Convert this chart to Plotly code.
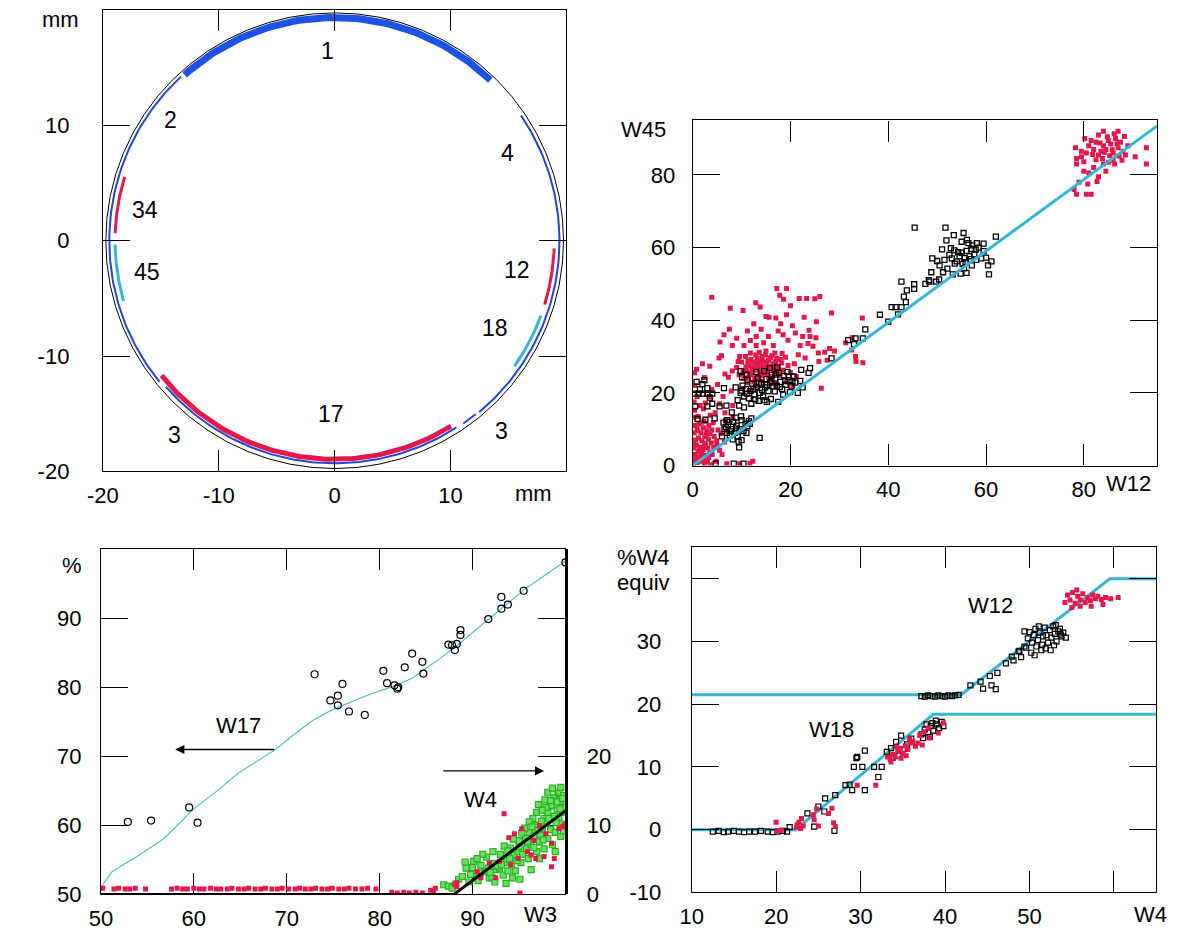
import numpy as np
import plotly.graph_objects as go

W, H = 1179, 945
OFF = 8                      # default body margin of the html page
FW, FH = W - 2 * OFF, H - 2 * OFF
FONT = "Liberation Sans, Arial, Helvetica, sans-serif"
RED = "#e3194b"
CYAN = "#35b6d6"
BLUE = "#2344d4"

# ---------------- Panel 1: detector ring (mm) ----------------
ring_r = 19.75
arc_label = ["2", "17b", "3a", "4", "1", "34", "12", "17", "45", "18"]
arc_r = [19.45, 19.3, 19.35, 19.4, 19.35, 18.95, 18.95, 18.95, 18.95, 18.95]
arc_start = [133, 221, 305, 310, 46, 163, -17, 218, 181, -35]
arc_end = [219, 303, 309, 394, 132, 178, -2, 302, 196, -20]
arc_color = [BLUE, BLUE, BLUE, BLUE, "#1d52e6", RED, RED, RED, CYAN, CYAN]
arc_width = [2, 2, 2, 2, 7, 3, 3, 5, 3, 3]

p1_text = ["1", "2", "4", "34", "45", "12", "18", "17", "3", "3"]
p1_tx = [-0.6, -14.2, 14.9, -16.4, -16.2, 15.7, 13.8, -0.3, -13.8, 14.4]
p1_ty = [16.45, 10.5, 7.6, 2.7, -2.7, -2.5, -7.6, -15.0, -16.8, -16.5]

# ---------------- Panel 2: W45 vs W12 ----------------
p2_red = [
    (0.2,0.5),(0.5,1.5),(0.9,0.8),(1.3,2.2),(0.4,3),(1.1,3.8),(1.8,3),(2.3,1.6),(2.8,2.8),(0.3,4.8),
    (0.8,5.6),(1.5,5),(2.1,4.4),(2.6,6),(3.1,4.8),(3.5,3.5),(0.6,7),(1.2,7.6),(1.9,6.8),(2.5,8),
    (3.2,7.2),(3.8,6.2),(4.3,5),(0.3,9),(1,9.6),(1.7,9),(2.2,10.4),(2.9,9.6),(3.6,8.8),(4.4,8),
    (4.9,6.8),(0.5,11),(1.4,11.5),(2.3,12.2),(3.3,11),(0.2,13.3),(1.1,13.5),(4.2,11.8),(5.2,9.8),(5.8,8.8),
    (0.4,15.2),(2.2,15.6),(0.3,17.5),(0.9,19),(0.5,22),(0.4,25.5),(0.8,26.5),(2,28),(1.5,16.5),(3.4,19),
    (3.9,21),(2.6,17.2),(4.6,14.5),(5.5,17),(6.7,12.3),(6.2,19),(5.1,22.3),(5.4,29.6),(6.6,25.2),(7.3,24.3),
    (7.9,20.5),(8.1,26),(9.3,28.6),(3.6,13.8),(7,0.5),(9.6,0.5),(11.7,0.6),(12.3,1.2),(2.4,0.3),(3.6,0.2),
    (4.8,1.2),(6,3),(5.5,4.2),(6.5,6.5),(7.2,9.5),(8.2,13.2),(1.6,1.2),(3.0,1.0),(0.7,2.4),(2.0,2.2),
    (0.9,10.6),(1.9,11.9),(2.8,8.6),(3.9,9.8),(1.4,4.2),(2.4,5.4),(4.0,3.0),(0.2,6.2),(5.0,5.6),(3.3,2.2),
    (10.5,24),(11,26),(11.5,27.5),(12,25),(12.3,28.5),(12.8,26.5),(13.2,29.5),(13.5,24.5),(13.8,27.5),(14.2,30),
    (14.5,26),(14.8,28.5),(15.2,25.2),(15.5,29),(15.8,27),(16.2,30.2),(16.5,28),(16.8,25.8),(17.2,29.5),(17.5,27),
    (17.8,24.8),(18.2,28.2),(18.5,26.2),(19,29.8),(19.5,27.5),(20,25.5),(11.2,22.8),(12.5,23),(13,21.8),(10,28.5),
    (10.8,30),(11.8,31),(13.6,31.2),(15,31.5),(16.8,31),(18.3,30.8),(12,20.5),(10.2,21.2),(9.5,25),(9,27),
    (11.6,25.1),(12.4,27.1),(13.1,26.2),(13.9,25.6),(14.6,27.2),(15.4,26.6),(16.1,27.4),(11.9,29.2),(12.9,28.2),(14.1,28.8),
    (10.9,27.2),(11.4,24.2),(12.7,24.1),(13.4,27.0),(14.3,24.8),(15.1,28.0),(15.9,29.6),(16.6,26.8),(17.0,28.6),(12.1,26.3),
    (13.6,28.3),(14.9,30.4),(11.3,28.6),(16.3,24.6),(10.3,25.8),(12.9,30.4),(15.6,24.2),(17.4,26.0),(18.0,29.2),(14.0,26.5),
    (14,23.2),(16,23.5),(17,22.5),(19.2,23),(20.5,22),(21.2,24.5),(20.8,28),(13,33),(14.5,33.8),(16.5,33),
    (15.5,35.5),(14,37.5),(13,35.5),(17.5,37),(18.5,36),(19.5,34.5),(21,36.5),(22.5,35.5),(23.6,33.6),(24.6,32.8),
    (25.2,35.2),(25.7,31),(27,31.2),(28,32.2),(21.6,30.5),(23,29.6),(25.8,28.6),(29,31.5),(31.3,33.8),(32.5,31.8),
    (34.7,40.6),(32.6,35.2),(33.3,30),(34.8,28.3),(33.4,28.6),(26.3,21.3),(3.9,46.3),(7.7,43.3),(10.3,42.7),(12.9,44.8),
    (13.8,43.6),(15,41),(15.6,40.8),(17.2,48.7),(19.2,48.7),(17.8,46.9),(18.6,45.8),(20,44),(21.8,46),(23.3,46),
    (25,45.9),(26,46.5),(28.4,42),(22.8,40.8),(25.3,39.6),(17,40.6),(19.2,41.5),(18,39),(20.4,38.5),(23.8,37.2),
    (22,33),(24,35.5),(27.5,29),(5.9,30.2),(9.6,30),(8.1,33),(5.6,34),(10.5,33),(11.8,34.4),(12.5,39),
    (6.4,36),(7.5,37.5),(9,35),(11.2,37),(2.4,24.2),(3.5,27.3),(6.6,14.5),(8.2,16.5),
    (78.5,84.5),(79.5,85),(80.5,86),(81,88),(82,87),(82.5,89),(83,85.5),(83.5,86.5),(84,88),(84.5,87),
    (85,89.5),(85.5,88.5),(86,86),(86.5,90),(87,87.5),(87.5,89),(88,86.5),(86,84),(85,83.5),(84,83),
    (82,82),(81,80.5),(80,81),(83,79.5),(84.5,81),(79,78),(78,76),(78.5,74.7),(80.5,74.7),(81.5,74.7),
    (80.8,77.5),(82.7,78.2),(84.8,90.5),(84,92),(87,92),(83,91),(81.5,89.5),(79.5,86.5),(78.3,87.5),(78.5,83),
    (80.2,90),(88.5,85.5),(87.8,84),(92.8,87.5),(92.8,83),(90.5,85),(89,88),(86.3,83),(83.8,84.5),(82.5,84.2),
    (85.3,85.3),(86.8,88.6),(84.2,86.2),(81.8,85.6),(88.3,90.6),(86.2,91.3),(83.3,88.8),(80,83.6),(85.8,86.9),(87.2,85.2),
]
p2_blk = [
    (6,8),(6.5,10),(7,9),(7.2,11.2),(7.6,8.2),(8,10),(8.3,12),(8.6,9),(9,11),(9.2,8),
    (9.6,10),(10,12.5),(10.4,9.5),(10.8,11.5),(11.2,10.8),(7,12.5),(8.8,13.2),(9.9,13.5),(6.3,11.8),(11.5,12.2),
    (8.2,7.2),(9.4,6.6),(9.5,5),(10,7),(11,9),(12,13),(11.7,11.5),(6.8,10.6),(7.8,9.4),(8.9,10.2),
    (9.2,18),(9.8,20),(10.2,22),(10.5,19),(10.9,21),(11.2,23.5),(11.5,18.5),(11.8,20.5),(12.2,22.5),(12.6,19.5),
    (13,21.5),(13.3,24),(13.7,20),(14,22.5),(14.4,19),(14.8,21.5),(15.1,23.8),(15.5,20.5),(15.8,22.8),(16.2,25),
    (16.5,21.8),(16.9,24),(17.2,22),(17.6,25.5),(17.9,23),(18.3,21),(18.7,24.6),(19,22.2),(19.4,25.8),(19.8,23.5),
    (20.2,21.8),(20.6,24.5),(21,22.8),(14.6,26),(13,25.8),(15.8,26.8),(17.3,27),(11,25),(10.1,24.3),(9.5,16.5),
    (10.5,16),(12,17),(13.5,17.8),(12.8,18.2),(14.7,18),(16,18.3),(9.8,26),(8.8,21.5),(21.5,20),(22,23.3),
    (18.5,19.5),(19.9,20.2),(16.8,20.4),(17.8,21.6),(18.9,23.4),(15.2,22.2),(16.1,23.2),(13.6,22.8),(12.4,21.0),(19.6,24.4),
    (20.4,23.2),(17.0,25.0),(14.2,20.8),(11.1,19.8),(10.0,20.6),
    (0.3,19.8),(1.2,19.8),(2.1,19.8),(3,19.8),(4,19.8),(0.8,23),(2,22.4),(3,21.3),(0.5,16.3),(3,16.3),
    (4,17),(1,12.8),(2.6,12.6),(4.5,13),(5.5,16.3),(6.4,21.3),(6.9,16.5),(7.5,12),(8,14.6),(13.7,7.6),
    (4.7,0.5),(8.4,0.5),(10.4,0.5),(22.5,21.5),(24,26.8),(22.2,26.3),(23.7,25.5),(28.4,29.5),(15.2,17.5),(17.5,17.5),
    (1.5,21),(2.4,23.5),(3.5,18.7),
    (31.8,34.5),(33.3,35),(33,33.4),(34.8,35),(35.3,37.5),(38.3,41.5),(40,39.6),(40.7,43.6),(41.5,43.6),(42.7,43.6),
    (42,41.6),(43.2,46.5),(43.6,45),(45.3,49.9),(45.3,48.6),(47.6,50),(48.3,51),(48.8,53.2),(42.7,50.6),(43.8,48.2),
    (45.4,65.5),(51.7,65.5),(53.4,63.4),(51.9,62),(55.4,64),(55,61.6),(56.4,61.2),(51,59.5),(49,57),(50,56.3),
    (50.5,55.1),(51.5,56.6),(52.5,58),(53,57),(53.5,59.2),(54,56.2),(54.6,57.6),(55,58.6),(55.6,57.1),(56,59.1),
    (56.6,57.6),(57,59.6),(57.6,58.1),(58,56.6),(58.5,60),(59,57),(59.5,59),(60,57.2),(60.4,55.1),(60.6,52.6),
    (61.1,56.2),(62,63),(59.5,61.1),(57.1,55.1),(56,53),(53.2,52.6),(52.1,54.2),(51.2,53.2),(54.8,52.8),(55.5,54.3),
    (53.6,55.6),(56.1,62.1),(57.2,60.6),(58.1,61.2),(50.4,51.2),(49.8,50.6),(48.4,50.6),(55.8,56),(54.3,58.7),(56.9,56.8),
    (57.9,59.4),(52.8,59.8),(55.2,55.5),
]
p2_fit_x = [0, 95]
p2_fit_y = [0, 93.5]

# ---------------- Panel 3: W17 (%) and W4 vs W3 ----------------
w17_x = [52.9,55.4,59.5,60.4,73.0,74.7,75.5,75.5,76.0,76.7,78.4,80.4,80.8,81.6,81.9,82.0,82.7,83.5,84.6,84.7,
         87.4,87.8,88.1,88.3,88.7,88.7,91.7,93.1,93.1,93.8,95.5,100]
w17_y = [60.5,60.7,62.6,60.4,81.9,78.1,78.8,77.4,80.5,76.5,76.0,82.4,80.6,80.3,79.8,80.0,82.9,84.9,83.7,82.0,
         86.2,86.1,85.4,86.3,88.3,87.6,89.9,93.1,91.4,92.0,94.0,98.1]
w17_fit_x = [50,51.2,54,56.8,60,62.5,64.8,66.8,68.8,70.8,72.8,74.8,76,78,80,81.6,83.6,84.9,86.5,88,89.5,90.9,92.9,95.7,100]
w17_fit_y = [51,53.3,55.6,58.1,62.4,65,67.6,69.3,71,73.2,75.2,76.7,77.4,78.5,79.5,80.2,81.4,82.6,84.2,85.7,87.4,89,91.2,94.3,98.3]

w4_fit_x = [50, 88, 100]
w4_fit_y = [0, 0, 12.1]

w4_green = [
    (86.9,1.4),(87.4,1.2),(88.5,2.2),(88.9,2.6),(89.3,3.8),(89.6,1.8),(90.1,4.8),(90.3,3),(90.6,2),(90.9,4.2),
    (91.3,3.3),(91.5,5.4),(91.8,2.4),(92.1,2.4),(92.2,4.5),(92.5,3.6),(92.9,3.8),(93,5.8),(93.3,2.8),(93.4,4.6),
    (93.7,5.2),(93.8,3.4),(94.1,6.7),(94.2,4.4),(94.5,5.6),(94.6,3.4),(94.9,6.2),(95,7.8),(95.2,4.6),(95.4,5.8),
    (95.7,8.1),(95.8,6.6),(96.1,9),(96,5.2),(96.3,7.2),(96.5,11),(96.6,8.4),(96.9,10),(96.9,6.2),(97.2,7.6),
    (97.3,8.6),(97.5,9.6),(97.7,11),(97.7,6.6),(98,10.3),(98.1,11.9),(98.1,8.1),(98.3,12.8),(98.4,9.4),(98.5,12.9),
    (98.6,7.2),(98.8,11.3),(98.9,13.8),(98.9,9),(99.1,12.2),(99.2,14.6),(99.3,14.8),(99.3,11),(99.5,15.5),(99.5,13),
    (99.6,10.2),(99.7,11.9),(99.8,14.3),(99.8,12.6),(98.1,14.8),(98.6,15.4),(97.8,13.7),(96.9,11.9),(97.1,13),(95.6,9.6),
    (94.4,8),(93.4,7),(92.2,6.2),(91.1,5.8),(90,3.9),(89.2,4.7),(88.2,1.5),(87.8,0.9),(92.4,1.8),(93.6,1.6),
    (95.1,2.2),(94.3,2.4),(96.3,3.6),(97.2,5.2),(98.9,6.2),(99.5,8.4),(99.8,9.2),(97.9,12.6),(98.7,14),(99.4,12.4),
    (96.1,10.5),(95.3,8.9),(93.8,6.3),(91.7,3.8),(90.5,5.2),(92.7,4.1),(94.8,4.9),(96.6,6.8),(97.6,7.9),(99.0,10.4),
    (89.8,2.9),(90.8,3.1),(91.9,3.2),(93.1,4.3),(94.0,5.2),(95.0,6.9),(95.9,7.6),(96.8,9.2),(97.4,10.6),(98.2,11.0),
    (99.1,13.4),(99.7,13.9),(98.4,13.6),(97.5,12.2),(96.4,9.8),
]
w4_red = [
    (93.4,11.7),(95.3,9.5),(94.5,8.8),(97.2,10),(95.9,6.2),(96.3,5.7),(94.9,5.2),(96.8,5.2),(97.7,5.5),(98.5,4),
    (98.5,7.4),(98.8,5.2),(99.3,9.5),(99.7,9.8),(95.1,0.2),(90.5,3.3),(90.9,2.4),(92.5,2.4),(92.9,4.8),(94.1,4.3),
    (88.3,1.7),(88.3,1.1),(88.1,1.4),(91.8,4.5),(99.9,10.1),(96.6,7.8),(93.9,8.2),(97.9,8.8),
    (50.2,0.9),(51.4,0.8),(51.9,0.9),(52.6,0.8),(53.1,0.8),(53.7,0.9),(54.8,0.8),(57.6,0.8),(58.2,0.9),(58.8,0.8),
    (59.3,0.8),(60.0,0.9),(60.6,0.8),(61.1,0.8),(61.8,0.9),(62.4,0.8),(62.9,0.8),(63.6,0.8),(64.1,0.9),(64.8,0.8),
    (65.4,0.8),(65.9,0.9),(66.6,0.8),(67.2,0.8),(67.7,0.9),(68.4,0.8),(69.0,0.8),(69.5,0.9),(70.2,0.8),(70.9,0.8),
    (71.4,0.9),(72.0,0.8),(72.6,0.8),(73.1,0.9),(73.8,0.8),(74.4,0.8),(74.9,0.9),(75.6,0.8),(76.2,0.8),(76.7,0.9),
    (77.4,0.8),(78.1,0.8),(78.7,0.9),(79.6,0.8),(81.3,0.3),(81.9,0.2),(82.6,0.3),(83.2,0.2),(83.9,0.3),(84.6,0.2),
    (85.5,0.6),(86.0,0.9),(85.8,0.4),
]

# ---------------- Panel 4: %W4 equivalent vs W4 ----------------
p4_w12_x = [10, 41.9, 59.5, 65]
p4_w12_y = [21.5, 21.5, 40, 40]
p4_w18_x = [10, 22.3, 38.6, 65]
p4_w18_y = [0, 0, 18.4, 18.4]

p4_blk = [
    (12.5,-0.3),(13.2,-0.2),(13.8,-0.4),(14.3,-0.3),(15,-0.2),(15.6,-0.3),(16.2,-0.4),(16.8,-0.3),(17.5,-0.3),(18.2,-0.2),
    (19,-0.3),(19.6,-0.4),(20.2,-0.3),(20.8,-0.2),(21.3,-0.3),(21.6,0.4),
    (37.2,21.3),(37.6,21.2),(38,21.4),(38.4,21.3),(38.8,21.2),(39.2,21.4),(39.6,21.3),(40,21.2),(40.4,21.4),(40.8,21.3),
    (41.2,21.4),(41.6,21.5),
    (23.7,2.6),(25,3.7),(25.8,5),(27,5.5),(28.2,7.1),(29.2,10),(29.6,11.6),(30.5,12.6),(31.6,10),(32.5,10),
    (32.1,8.4),(30.5,6.3),(29,6.3),(26.9,-0.2),(24.5,0.5),(25.7,2.9),(28.7,7.2),(29.5,11.4),(30.2,10),(33.1,12.4),
    (37.2,15.2),(37.6,16),(38,15.5),(38.3,16.5),(38.6,15.8),(39,16.8),(39.3,16.2),(39.6,17.2),(38.2,14.8),(38.9,17.4),
    (37.8,16.8),(39.8,16.5),(38.5,17),(37.4,14.6),
    (33.6,13),(34.2,14),(34.8,15),(33.8,11.5),(35,12.8),(34.5,11.8),(36,14.5),(35.5,13.6),
    (47.2,26.5),(45.5,23),(44.5,22.5),(43,23),(44.2,23.6),(46.2,25),(45.3,24.5),(48.1,27),(48.8,28.5),(49,27.5),
    (46,22.4),(47.9,27.6),(48.7,28.4),(49.4,29.2),
    (49.6,29),(49.8,30.5),(50,31.5),(50.3,29.8),(50.5,31),(50.7,32),(51,30.2),(51.2,31.4),(51.4,28.6),(51.6,30.8),
    (51.8,32.2),(52,31),(52.2,29.8),(52.4,31.8),(52.6,30.6),(52.8,32.4),(53,31.2),(53.2,30),(53.4,31.6),(53.6,32),
    (53.8,30.8),(54,31.4),(54.3,30.6),(50.2,28.2),(50.8,29.2),(51.5,29.5),(52.5,28.6),(49.4,31.6),(50.6,27.8),(53.1,32.6),
    (51.1,32.4),(52.9,29.4),(51.9,28.9),(53.7,31.1),
]
p4_red = [
    (20,1.2),(20.1,-0.2),(20.6,-0.1),(22.4,0.4),(22.7,1.2),(23,1.8),(22.5,0.8),(23.2,0.6),(22.9,0.2),(24.4,2.4),
    (24.8,3.3),(26.2,2.6),(26.8,1.1),(26.6,3.4),(25,0.6),(29.6,7.1),(31.8,7.1),(24.5,1.6),(27,0.5),
    (33.5,11.2),(33.8,12),(34.1,11.6),(34.4,12.5),(34.7,13),(35,12.2),(35.3,13.4),(35.6,12.8),(35.9,13.8),(36.2,14),
    (34.2,13.2),(35.4,11.8),(33.2,11.6),(34.8,11.4),(36.5,13.3),(35.8,14.5),(33.6,10.8),(36.8,13.8),
    (37,15),(37.5,15.6),(38.2,14.6),(39.2,15.4),(39.8,17),(37.3,13.5),(38,16.2),
    (54.2,36.2),(54.5,37.4),(54.8,36.6),(55.1,37.8),(55.4,36.1),(55.7,37.2),(56,36.6),(56.3,37.6),(56.6,36.2),(56.9,37),
    (57.2,36.5),(57.5,37.4),(57.8,36.8),(58.1,37.2),(58.5,36.7),(59,37),(59.6,36.8),(60.5,37),(56,35.6),(57.3,35.6),
    (55,35.4),(58.7,35.9),(55.6,38.2),
]


def px(x):
    return (x - OFF) / FW


def py(y):
    return 1 - (y - OFF) / FH


def xs(pts):
    return [p[0] for p in pts]


def ys(pts):
    return [p[1] for p in pts]


fig = go.Figure()

# Panel 1 ---------------------------------------------------------
for r, a0, a1, c, lw in zip(arc_r, arc_start, arc_end, arc_color, arc_width):
    th = np.radians(np.linspace(a0, a1, 90))
    fig.add_trace(go.Scatter(x=r * np.cos(th), y=r * np.sin(th), mode="lines",
                             line=dict(color=c, width=lw), xaxis="x", yaxis="y",
                             hoverinfo="skip", showlegend=False))
fig.add_shape(type="circle", xref="x", yref="y", x0=-ring_r, y0=-ring_r, x1=ring_r, y1=ring_r,
              line=dict(color="black", width=1))

# Panel 2 ---------------------------------------------------------
fig.add_trace(go.Scatter(x=xs(p2_red), y=ys(p2_red), mode="markers", xaxis="x2", yaxis="y2",
                         marker=dict(symbol="square", size=5, color=RED), showlegend=False))
fig.add_trace(go.Scatter(x=xs(p2_blk), y=ys(p2_blk), mode="markers", xaxis="x2", yaxis="y2",
                         marker=dict(symbol="square-open", size=5, color="black", line=dict(width=1.3)),
                         showlegend=False))
fig.add_trace(go.Scatter(x=p2_fit_x, y=p2_fit_y, mode="lines", xaxis="x2", yaxis="y2",
                         line=dict(color=CYAN, width=3), showlegend=False))

# Panel 3 ---------------------------------------------------------
fig.add_trace(go.Scatter(x=w17_fit_x, y=w17_fit_y, mode="lines", xaxis="x3", yaxis="y3",
                         line=dict(color="#55bccf", width=1.2), showlegend=False))
fig.add_trace(go.Scatter(x=w17_x, y=w17_y, mode="markers", xaxis="x3", yaxis="y3",
                         marker=dict(symbol="circle-open", size=7, color="black", line=dict(width=1.2)),
                         showlegend=False))
fig.add_trace(go.Scatter(x=xs(w4_green), y=ys(w4_green), mode="markers", xaxis="x5", yaxis="y5",
                         marker=dict(symbol="square", size=6, color="#6fdc5f",
                                     line=dict(color="#22b522", width=1.2)), showlegend=False))
fig.add_trace(go.Scatter(x=xs(w4_red), y=ys(w4_red), mode="markers", xaxis="x5", yaxis="y5",
                         marker=dict(symbol="square", size=5, color=RED), showlegend=False))
fig.add_trace(go.Scatter(x=w4_fit_x, y=w4_fit_y, mode="lines", xaxis="x5", yaxis="y5",
                         line=dict(color="black", width=3), showlegend=False))

# Panel 4 ---------------------------------------------------------
fig.add_trace(go.Scatter(x=p4_w12_x, y=p4_w12_y, mode="lines", xaxis="x4", yaxis="y4",
                         line=dict(color=CYAN, width=3), showlegend=False))
fig.add_trace(go.Scatter(x=p4_w18_x, y=p4_w18_y, mode="lines", xaxis="x4", yaxis="y4",
                         line=dict(color=CYAN, width=3), showlegend=False))
fig.add_trace(go.Scatter(x=xs(p4_blk), y=ys(p4_blk), mode="markers", xaxis="x4", yaxis="y4",
                         marker=dict(symbol="square-open", size=5, color="black", line=dict(width=1.2)),
                         showlegend=False))
fig.add_trace(go.Scatter(x=xs(p4_red), y=ys(p4_red), mode="markers", xaxis="x4", yaxis="y4",
                         marker=dict(symbol="square", size=5, color=RED), showlegend=False))

tf = dict(family=FONT, size=22, color="black")
base = dict(showline=True, linecolor="black", linewidth=1.2, mirror="allticks", ticks="inside",
            tickcolor="black", tickwidth=1.2, showgrid=False, zeroline=False, tickfont=tf)
xb = dict(base, ticklen=21, ticklabelstandoff=4)
yb = dict(base, ticklen=27)

fig.update_layout(
    width=FW, height=FH, margin=dict(l=0, r=0, t=0, b=0),
    plot_bgcolor="rgba(0,0,0,0)", paper_bgcolor="white", showlegend=False,
    xaxis=dict(xb, domain=[px(88), px(558)], range=[-20, 20], anchor="y",
               tickvals=[-20, -10, 0, 10], ticktext=["-20", "-10", "0", "10"]),
    yaxis=dict(yb, domain=[py(478), py(10)], range=[-20, 20], anchor="x", ticklabelstandoff=28,
               tickvals=[-20, -10, 0, 10], ticktext=["-20", "-10", "0", "10"]),
    xaxis2=dict(xb, domain=[px(686), px(1157)], range=[0, 95], anchor="y2",
                tickvals=[0, 20, 40, 60, 80]),
    yaxis2=dict(yb, domain=[py(472), py(122)], range=[0, 95], anchor="x2", ticklabelstandoff=12,
                tickvals=[0, 20, 40, 60, 80]),
    xaxis3=dict(xb, domain=[px(86), px(557)], range=[50, 100], anchor="y3",
                tickvals=[50, 60, 70, 80, 90]),
    yaxis3=dict(yb, domain=[py(907), py(557)], range=[50, 100], anchor="x3", ticklabelstandoff=14,
                tickvals=[50, 60, 70, 80, 90]),
    xaxis5=dict(domain=[px(86), px(557)], range=[50, 100], anchor="y5", visible=False),
    yaxis5=dict(domain=[py(907), py(557)], anchor="x5", side="right", range=[0, 50], showgrid=False,
                zeroline=False, showline=True, linecolor="black", linewidth=3, ticks="",
                tickvals=[0, 10, 20], tickfont=tf, ticklabelstandoff=14),
    xaxis4=dict(xb, domain=[px(685), px(1156)], range=[10, 65], anchor="y4",
                tickvals=[10, 20, 30, 40, 50, 60], ticktext=["10", "20", "30", "40", "50", ""]),
    yaxis4=dict(yb, domain=[py(905), py(555)], range=[-10, 45], anchor="x4", ticklabelstandoff=25,
                tickvals=[-10, 0, 10, 20, 30, 40], ticktext=["-10", "0", "10", "20", "30", ""]),
)

ann = []
for t, x, y in zip(p1_text, p1_tx, p1_ty):
    ann.append(dict(text=t, x=x, y=y, xref="x", yref="y", showarrow=False,
                    font=dict(family=FONT, size=23, color="black")))

paper_labels = [("mm", 45, 20), ("mm", 525, 500), ("W45", 636, 131), ("W12", 1128, 490),
                ("%", 57, 573), ("W3", 532, 927), ("%W4", 636, 565), ("equiv", 636, 591), ("W4", 1150, 927)]
for t, x, y in paper_labels:
    ann.append(dict(text=t, x=px(x), y=py(y), xref="paper", yref="paper", showarrow=False,
                    font=dict(family=FONT, size=22, color="black"), xanchor="center", yanchor="middle"))

lab = dict(family=FONT, size=22, color="black")
ann += [
    dict(text="W17", x=64.8, y=74.5, xref="x3", yref="y3", showarrow=False, font=lab),
    dict(text="W4", x=90.9, y=63.8, xref="x3", yref="y3", showarrow=False, font=lab),
    dict(text="", x=58, y=71, ax=68.8, ay=71, xref="x3", yref="y3", axref="x3", ayref="y3",
         showarrow=True, arrowhead=2, arrowsize=1.3, arrowwidth=1.4, arrowcolor="black"),
    dict(text="", x=97.7, y=67.9, ax=86.7, ay=67.9, xref="x3", yref="y3", axref="x3", ayref="y3",
         showarrow=True, arrowhead=2, arrowsize=1.3, arrowwidth=1.4, arrowcolor="black"),
    dict(text="W12", x=45.4, y=35.8, xref="x4", yref="y4", showarrow=False, font=lab),
    dict(text="W18", x=26.6, y=16.0, xref="x4", yref="y4", showarrow=False, font=lab),
]
fig.update_layout(annotations=ann)

fig.write_html("out.html")
